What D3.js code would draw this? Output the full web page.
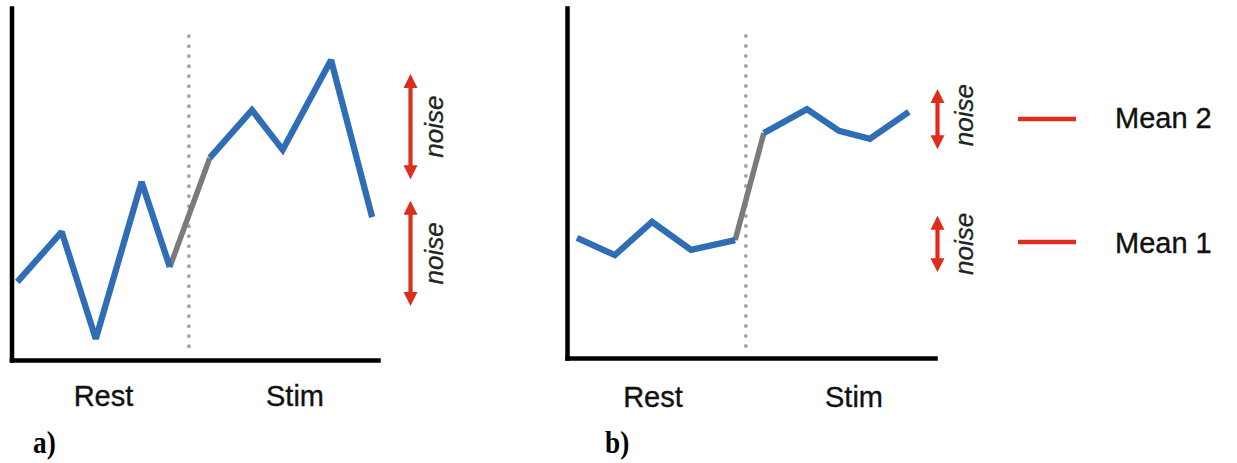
<!DOCTYPE html>
<html>
<head>
<meta charset="utf-8">
<script src="https://cdn.jsdelivr.net/npm/d3@7"></script>
<style>
  html, body { margin: 0; padding: 0; background: #fff; }
  svg { display: block; }
  .lbl { font-family: "Liberation Sans", Arial, sans-serif; fill: #111; stroke: #111; stroke-width: 0.35; }
  .noise { font-family: "Liberation Sans", Arial, sans-serif; font-style: italic; fill: #222; stroke: #222; stroke-width: 0.3; }
  .tag { font-family: "Liberation Serif", "Times New Roman", serif; font-weight: bold; fill: #000; }
</style>
</head>
<body>
<svg id="fig" width="1237" height="463"></svg>
<script>
// ---- Panel a: noisy signal, rest vs. stimulation ----
const restTimeA = [0.16, 1.37, 2.30, 3.55, 4.32];
const restValA  = [22.2, 36.4, 6.0, 50.6, 26.4];
const stimTimeA = [5.41, 6.56, 7.40, 8.72, 9.84];
const stimValA  = [57.4, 71.0, 59.7, 85.2, 40.6];
const onsetA = 4.84;
const noiseA = [[51.1, 81.5], [15.1, 45.5]];   // [low, high] for each noise bar

// ---- Panel b: low-noise signal, rest vs. stimulation ----
const restTimeB = [0.27, 1.30, 2.31, 3.37, 4.57];
const restValB  = [34.3, 29.4, 38.9, 30.9, 33.7];
const stimTimeB = [5.35, 6.52, 7.39, 8.23, 9.29];
const stimValB  = [64.3, 71.1, 64.9, 62.6, 70.3];
const onsetB = 4.86;
const noiseB = [[59.4, 77.1], [24.3, 40.9]];

const conditionLabels = ["Rest", "Stim"];
const legendLabels = ["Mean 2", "Mean 1"];
const panelTags = ["a)", "b)"];

const BLUE = "#2f6db5", GREY = "#7b7b7b", RED = "#dd2d1c", DOT = "#a3a3a3";

const svg = d3.select("#fig");
svg.append("rect").attr("width", 1237).attr("height", 463).attr("fill", "#fff");

const defs = svg.append("defs");
defs.append("marker")
  .attr("id", "head")
  .attr("viewBox", "0 0 10 10")
  .attr("refX", 2).attr("refY", 5)
  .attr("markerUnits", "userSpaceOnUse")
  .attr("markerWidth", 14).attr("markerHeight", 14)
  .attr("orient", "auto-start-reverse")
  .append("path")
  .attr("d", "M0,0 L10,5 L0,10 Z")
  .attr("fill", RED);

function panel(cfg) {
  const g = svg.append("g");
  const x = d3.scaleLinear().domain([0, 10]).range(cfg.xRange);
  const y = d3.scaleLinear().domain([0, 100]).range(cfg.yRange);

  // stimulus onset marker
  g.append("line")
    .attr("x1", x(cfg.onset)).attr("x2", x(cfg.onset))
    .attr("y1", y(92)).attr("y2", y(2))
    .attr("stroke", DOT).attr("stroke-width", 3.8)
    .attr("stroke-linecap", "round")
    .attr("stroke-dasharray", "0 10");

  const line = d3.line().x(d => x(d[0])).y(d => y(d[1]));
  const rest = cfg.restT.map((t, i) => [t, cfg.restV[i]]);
  const stim = cfg.stimT.map((t, i) => [t, cfg.stimV[i]]);

  // transition segment between conditions
  g.append("path")
    .attr("d", line([rest[rest.length - 1], stim[0]]))
    .attr("fill", "none").attr("stroke", GREY).attr("stroke-width", 5.5);

  [rest, stim].forEach(seg => {
    g.append("path")
      .attr("d", line(seg))
      .attr("fill", "none").attr("stroke", BLUE)
      .attr("stroke-width", 6.3)
      .attr("stroke-linejoin", "miter").attr("stroke-miterlimit", 2);
  });

  // axes (no ticks, domain lines only)
  const xAxis = g.append("g").attr("transform", `translate(0,${cfg.yRange[0]})`)
    .call(d3.axisBottom(x).tickValues([]).tickSizeOuter(0));
  const yAxis = g.append("g").attr("transform", `translate(${cfg.xRange[0]},0)`)
    .call(d3.axisLeft(y).tickValues([]).tickSizeOuter(0));
  [xAxis, yAxis].forEach(a => a.select(".domain")
    .attr("stroke", "#000").attr("stroke-width", 4.5).attr("stroke-linecap", "square"));

  // noise range arrows
  cfg.noise.forEach((r, i) => {
    const ax = cfg.arrowX;
    g.append("line")
      .attr("x1", ax).attr("x2", ax)
      .attr("y1", y(r[1]) + 12).attr("y2", y(r[0]) - 12)
      .attr("stroke", RED).attr("stroke-width", 4.2)
      .attr("marker-start", "url(#head)").attr("marker-end", "url(#head)");
    const cy = (y(r[0]) + y(r[1])) / 2 + cfg.noiseShift[i];
    g.append("text").attr("class", "noise")
      .attr("transform", `translate(${cfg.noiseX},${cy}) rotate(-90)`)
      .attr("text-anchor", "middle")
      .attr("font-size", 26)
      .text("noise");
  });

  // condition labels
  conditionLabels.forEach((t, i) => {
    g.append("text").attr("class", "lbl")
      .attr("x", cfg.labelX[i]).attr("y", cfg.labelY)
      .attr("text-anchor", "middle").attr("font-size", 29)
      .text(t);
  });

  g.append("text").attr("class", "tag")
    .attr("transform", `translate(${cfg.tagX},453) scale(0.88,1)`)
    .attr("font-size", 31)
    .text(cfg.tag);
}

panel({
  xRange: [11.5, 378], yRange: [360, 8],
  restT: restTimeA, restV: restValA, stimT: stimTimeA, stimV: stimValA,
  onset: onsetA, noise: noiseA, arrowX: 410.5, noiseX: 443, noiseShift: [0, 0],
  labelX: [103.5, 295], labelY: 406, tag: panelTags[0], tagX: 33
});

panel({
  xRange: [567, 935], yRange: [358, 8],
  restT: restTimeB, restV: restValB, stimT: stimTimeB, stimV: stimValB,
  onset: onsetB, noise: noiseB, arrowX: 937.5, noiseX: 973, noiseShift: [-4, 0],
  labelX: [653, 854], labelY: 407, tag: panelTags[1], tagX: 605
});

// legend: mean levels
const legendY = [119, 242];
legendLabels.forEach((t, i) => {
  svg.append("line")
    .attr("x1", 1018).attr("x2", 1076)
    .attr("y1", legendY[i]).attr("y2", legendY[i])
    .attr("stroke", RED).attr("stroke-width", 4.5);
  svg.append("text").attr("class", "lbl")
    .attr("x", 1115).attr("y", legendY[i] + 9 + (i === 1 ? 2 : 0))
    .attr("font-size", 29)
    .text(t);
});
</script>
</body>
</html>
